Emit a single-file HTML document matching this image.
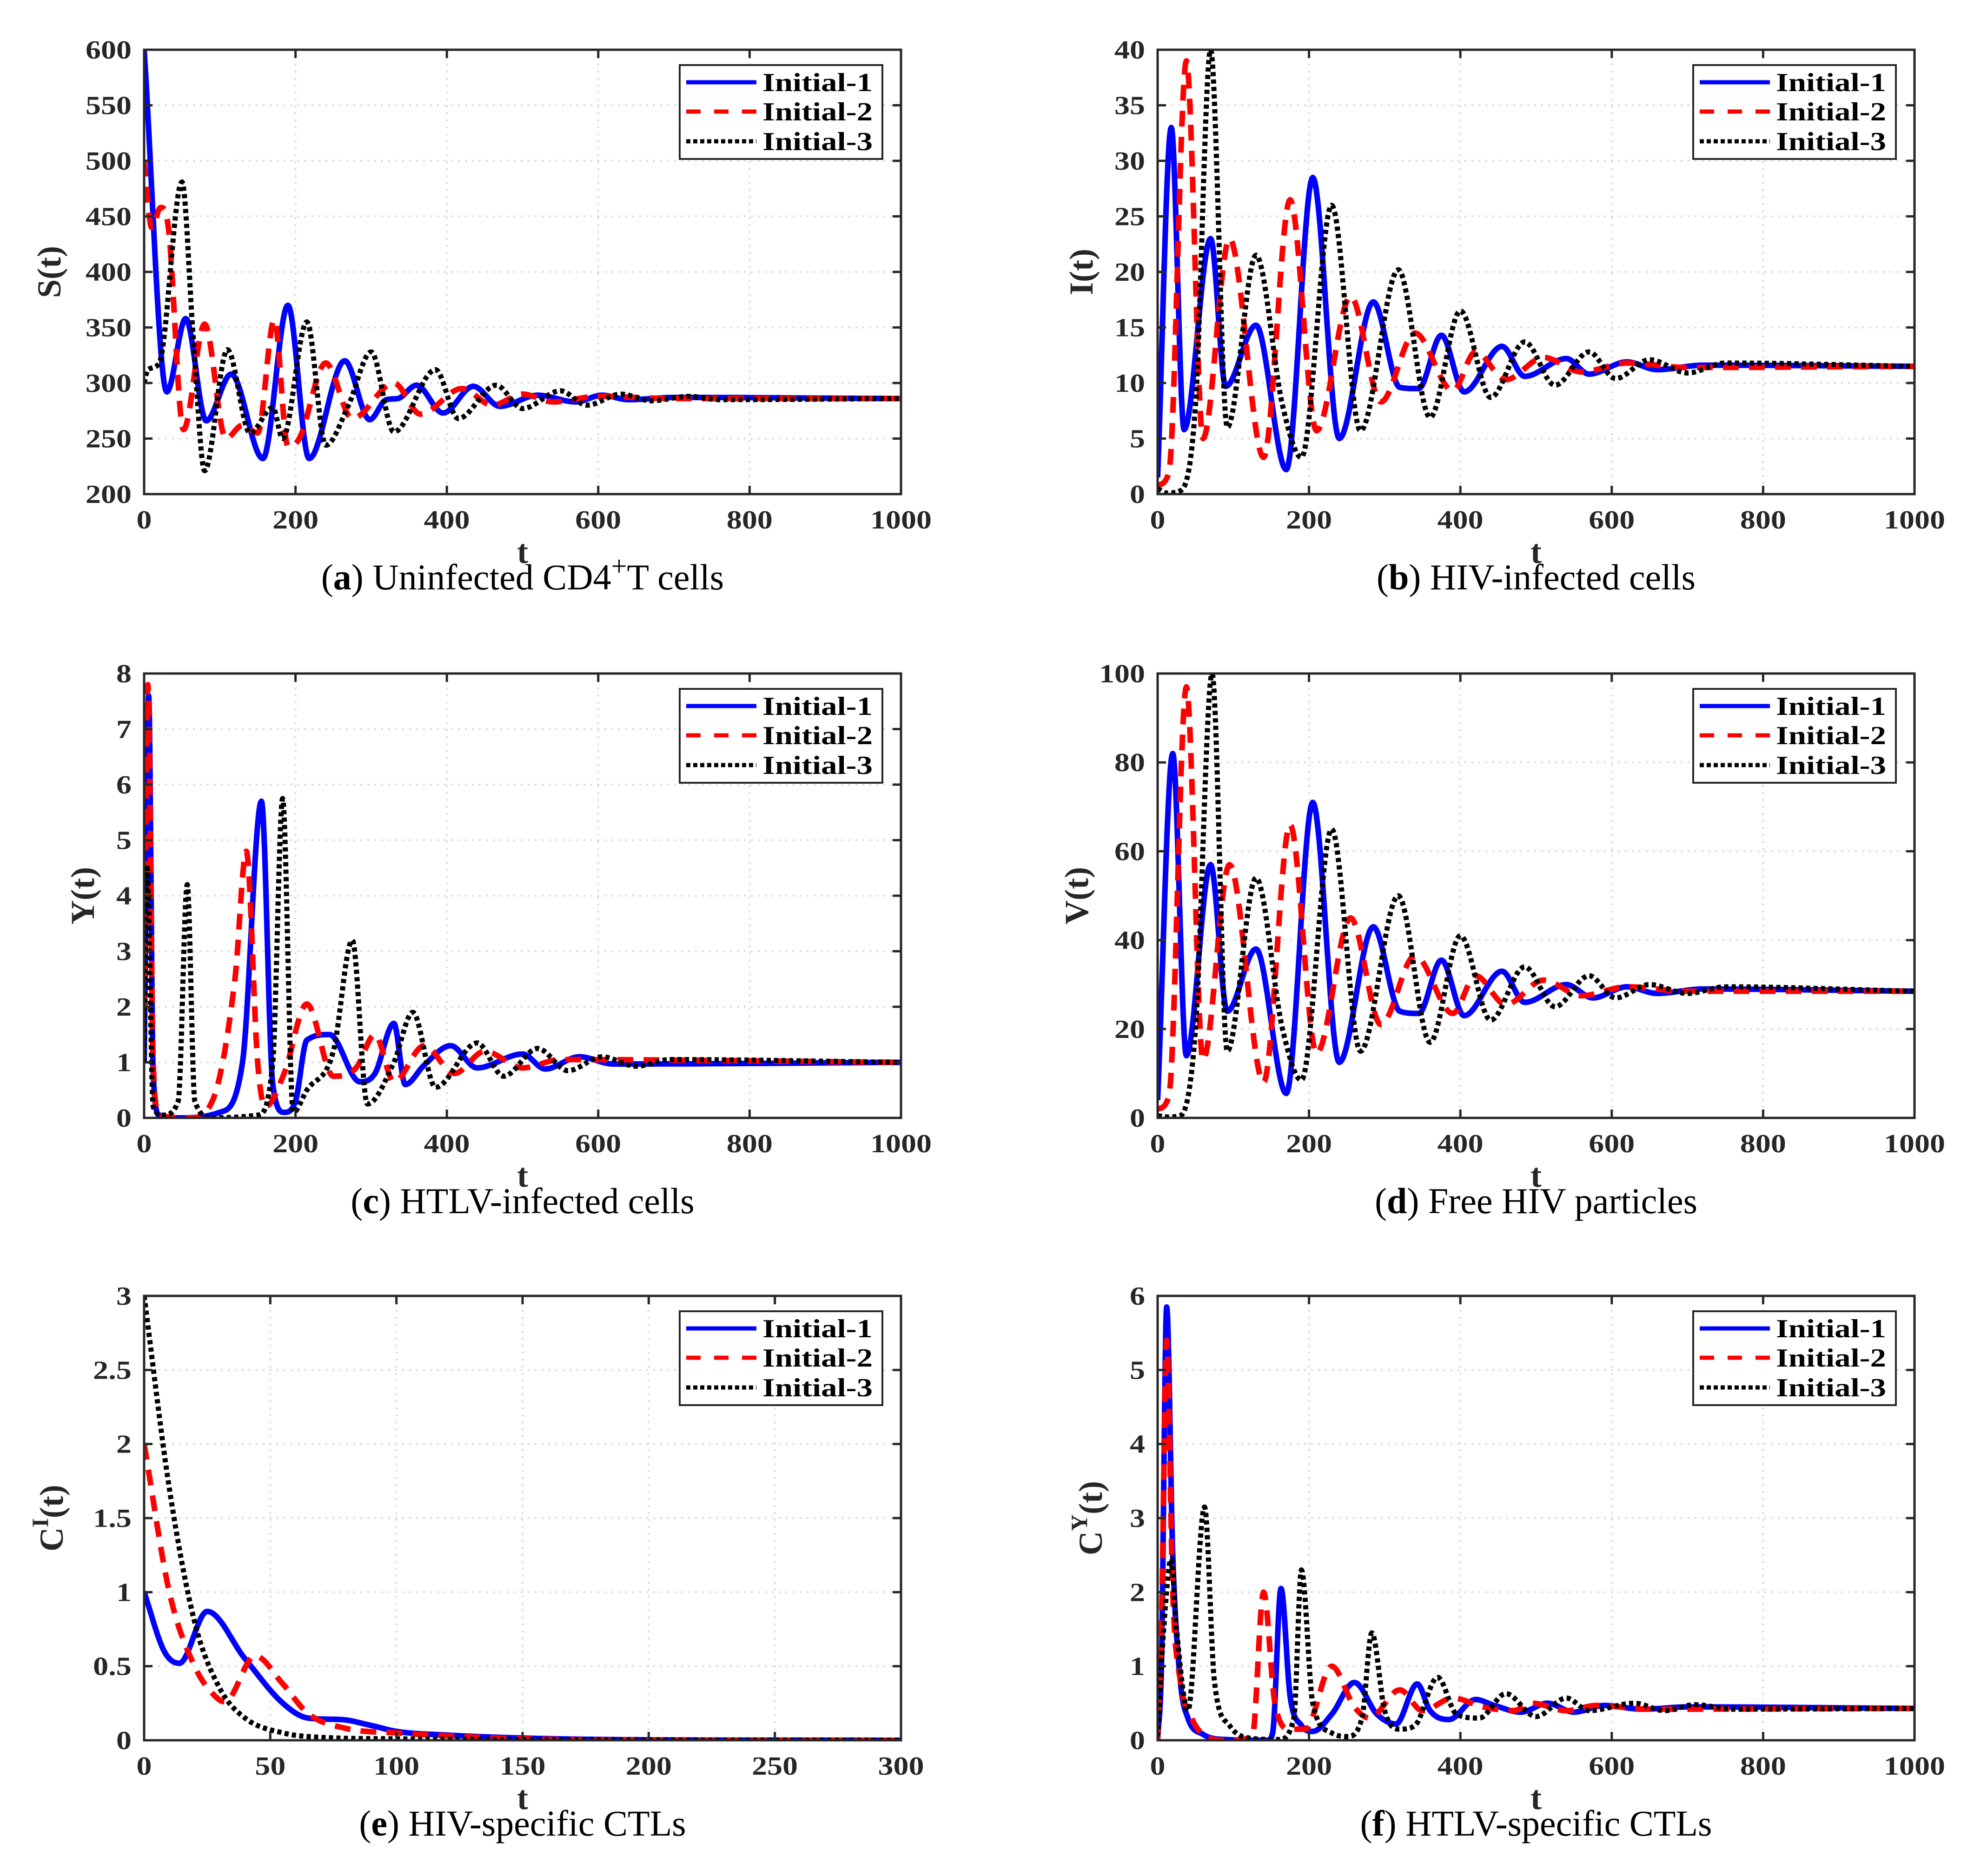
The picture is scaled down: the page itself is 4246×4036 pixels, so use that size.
<!DOCTYPE html>
<html><head><meta charset="utf-8">
<style>
html,body{margin:0;padding:0;background:#fff;}
svg{display:block;}
text{font-family:"Liberation Serif",serif;fill:#262626;}
.tick{font-weight:bold;font-size:56px;}
.cap{font-size:78px;fill:#000;}
.leg{font-weight:bold;font-size:56px;fill:#000;}
</style></head>
<body>
<svg id="fig" width="4246" height="4036" viewBox="0 0 4246 4036" xmlns="http://www.w3.org/2000/svg"></svg>
<script>
// ---- data (t, value) keypoints ----
const aT1=[0,30,55,82,115,157,190,218,265,298,320,335,360,395,435,470,520,570,605,640,700,1000];
const aV1=[600,292,358,266,308,232,370,232,320,267,285,286,298,273,297,279,289,283,289,285,287,286];
const aT2=[0,10,22,32,52,80,108,130,150,172,190,205,240,275,330,365,420,460,500,540,600,700,1000];
const aV2=[500,440,458,440,258,353,250,262,255,357,243,250,318,268,300,272,295,280,290,283,288,286,286];
const aT3=[0,5,20,50,65,80,110,140,170,183,215,240,270,300,330,385,415,465,500,550,585,630,670,720,760,1000];
const aV3=[300,312,318,481,340,221,330,255,278,250,355,244,280,328,256,312,268,298,277,293,280,290,284,288,285,286];

const bT1=[0,18,35,70,90,130,170,205,240,285,320,345,375,405,455,485,540,570,620,660,720,1000];
const bV1=[1.5,33,5.8,23,9.7,15.2,2.2,28.5,5,17.3,9.6,9.5,14.3,9.2,13.3,10.6,12.2,10.8,11.9,11.2,11.6,11.5];
const bT2=[0,15,38,60,95,140,175,210,255,295,340,390,420,460,510,560,620,700,1000];
const bV2=[0.8,2,39,5,23,3.3,26.5,5.7,17.8,8.3,14.5,9.3,12.8,10.3,12.3,11,11.8,11.4,11.5];
const bT3=[0,12,30,50,70,92,130,165,190,230,268,318,360,400,440,485,525,570,605,650,700,750,1000];
const bV3=[0.5,0.1,0.3,8,40,6,21.5,8,3.3,26,5.7,20.2,6.9,16.5,8.7,13.7,9.8,12.8,10.4,12.1,10.9,11.8,11.5];

const cT1=[0,6,12,20,50,100,130,155,170,185,200,215,245,285,305,330,345,370,405,440,500,530,575,620,1000];
const cV1=[1,7.6,0.8,0.05,0,0.1,1,5.7,0.6,0.1,0.3,1.4,1.5,0.65,0.8,1.7,0.6,0.95,1.3,0.9,1.15,0.88,1.1,0.97,1];
const cT2=[0,5,12,20,60,90,120,135,150,160,185,215,250,280,305,330,370,410,450,500,550,1000];
const cV2=[2,7.8,1,0.05,0,0.3,2.5,4.8,1,0.2,0.8,2.05,0.75,0.9,1.5,0.65,1.3,0.8,1.2,0.9,1.05,1];
const cT3=[0,4,12,25,45,57,67,90,150,170,183,197,215,250,275,295,330,355,385,440,475,520,560,605,650,695,1000];
const cV3=[1,4.5,0.2,0.05,0.3,4.2,0.3,0,0.05,1,5.75,0.1,0.5,1.2,3.2,0.25,1,1.9,0.55,1.35,0.75,1.25,0.85,1.1,0.93,1.05,1];

const dT1=[0,20,38,70,92,130,170,205,240,285,320,345,375,405,455,485,540,575,620,660,720,1000];
const dV1=[4,82,14,57,24,38,5.5,71,12.5,43,24,23.5,35.5,23,33,26,30,27,29.5,28,29,28.5];
const dT2=[0,15,38,60,95,140,175,210,255,295,340,390,420,460,510,560,620,700,1000];
const dV2=[2,5,97,13,57,8,66,14.5,45,21,36.5,23.5,32,25.5,31,27.5,29.5,28.5,28.5];
const dT3=[0,12,30,50,72,92,130,165,190,230,268,318,360,400,440,485,525,570,605,650,700,750,1000];
const dV3=[0.5,0.2,0.5,20,100,15,54,20,8.5,65,15,50,17,41,22,34,25,32,27,30,28,29.5,28.5];

const eT1=[0,8,14,25,40,55,65,78,90,100,120,150,200,300];
const eV1=[1,0.6,0.52,0.87,0.55,0.25,0.15,0.14,0.1,0.06,0.035,0.015,0.003,0];
const eT2=[0,10,20,28,32,44,55,65,80,100,120,150,200,300];
const eV2=[2,1.0,0.5,0.3,0.26,0.57,0.38,0.18,0.08,0.05,0.03,0.01,0.002,0];
const eT3=[0,10,20,30,40,55,70,100,150,300];
const eV3=[3,1.7,0.8,0.35,0.15,0.05,0.02,0.01,0.004,0];

const fT1=[0,5,12,20,30,40,60,90,145,152,163,175,190,205,230,260,290,315,343,360,385,420,445,480,515,550,590,640,700,1000];
const fV1=[0,1,5.85,2.5,0.8,0.3,0.08,0.01,0,0.1,2.05,0.6,0.2,0.12,0.35,0.78,0.35,0.22,0.76,0.4,0.28,0.55,0.47,0.38,0.5,0.38,0.47,0.42,0.45,0.43];
const fT2=[0,5,12,20,30,45,60,90,125,140,155,175,195,230,260,280,320,350,390,430,470,495,540,580,650,1000];
const fV2=[0,1.5,5.4,2,0.8,0.3,0.08,0,0.05,2,0.5,0.15,0.15,1,0.45,0.3,0.68,0.4,0.57,0.45,0.4,0.5,0.4,0.47,0.42,0.43];
const fT3=[0,8,18,25,40,62,75,95,120,160,180,190,205,230,250,270,283,300,320,340,370,395,425,460,500,540,570,630,670,710,760,1000];
const fV3=[0.05,1.5,2.45,1.5,0.4,3.15,0.8,0.2,0.03,0.01,0.3,2.3,0.5,0.1,0.05,0.3,1.45,0.4,0.15,0.2,0.85,0.35,0.3,0.63,0.32,0.57,0.4,0.5,0.4,0.48,0.42,0.43];

const xTicks1000=[0,200,400,600,800,1000];
const xTicks300=[0,50,100,150,200,250,300];
const aTicks=[200,250,300,350,400,450,500,550,600];
const bTicks=[0,5,10,15,20,25,30,35,40];
const cTicks=[0,1,2,3,4,5,6,7,8];
const dTicks=[0,20,40,60,80,100];
const eTicks=[0,0.5,1,1.5,2,2.5,3];
const fTicks=[0,1,2,3,4,5,6];
const legendLabels=['Initial-1','Initial-2','Initial-3'];

const NS='http://www.w3.org/2000/svg';
const svg=document.getElementById('fig');
function mk(tag,attrs,parent){const e=document.createElementNS(NS,tag);for(const k in attrs)e.setAttribute(k,attrs[k]);(parent||svg).appendChild(e);return e;}
function tlen(s){s=String(s);let w=0;for(const c of s)w+=(c==='.')?17:33;return w;}

function mono(xs,ys){
  const n=xs.length,d=[],m=[];
  for(let i=0;i<n-1;i++)d.push((ys[i+1]-ys[i])/(xs[i+1]-xs[i]));
  m[0]=d[0];m[n-1]=d[n-2];
  for(let i=1;i<n-1;i++){m[i]=(d[i-1]*d[i]<=0)?0:(d[i-1]+d[i])/2;}
  for(let i=0;i<n-1;i++){if(d[i]===0){m[i]=0;m[i+1]=0;continue;}
    const a=m[i]/d[i],b=m[i+1]/d[i],s=a*a+b*b;if(s>9){const t=3/Math.sqrt(s);m[i]=t*a*d[i];m[i+1]=t*b*d[i];}}
  return {d,m};
}

function panel(cfg){
  const g=mk('g',{});
  
  
  const L=cfg.x,T=cfg.y,W=1628,H=956;
  const sx=v=>L+(v-cfg.xmin)/(cfg.xmax-cfg.xmin)*W;
  const sy=v=>T+H-(v-cfg.ymin)/(cfg.ymax-cfg.ymin)*H;
  const clip='clip-'+cfg.name;
  const cp=mk('clipPath',{id:clip},g);mk('rect',{x:L,y:T-6,width:W,height:H+6},cp);
  cfg.xt.forEach(v=>{if(v>cfg.xmin&&v<cfg.xmax){const l=mk('line',{x1:sx(v),x2:sx(v),y1:T,y2:T+H,stroke:'#dcdcdc','stroke-width':4,'stroke-dasharray':'4 11'},g);}});
  cfg.yt.forEach(v=>{if(v>cfg.ymin&&v<cfg.ymax){const l=mk('line',{x1:L,x2:L+W,y1:sy(v),y2:sy(v),stroke:'#dcdcdc','stroke-width':4,'stroke-dasharray':'4 11'},g);}});
  const styles=[{c:'#0000ff',w:12,da:'',lda:''},{c:'#ff0000',w:12,da:'34 22',lda:'31 29'},{c:'#000',w:11,da:'9 7',lda:'9 6'}];
  cfg.series.forEach((s,k)=>{
    const xs=s[0],ys=s[1],{m}=mono(xs,ys);let p='M'+sx(xs[0]).toFixed(1)+' '+sy(ys[0]).toFixed(1);
    for(let i=0;i<xs.length-1;i++){const h=xs[i+1]-xs[i];
      for(let j=1;j<=24;j++){const t=j/24,t2=t*t,t3=t2*t;
        const y=(2*t3-3*t2+1)*ys[i]+(t3-2*t2+t)*h*m[i]+(-2*t3+3*t2)*ys[i+1]+(t3-t2)*h*m[i+1];
        p+='L'+sx(xs[i]+t*h).toFixed(1)+' '+sy(y).toFixed(1);}}
    const st=styles[k];const a={d:p,fill:'none',stroke:st.c,'stroke-width':st.w,'stroke-linejoin':'round','clip-path':'url(#'+clip+')'};
    if(st.da)a['stroke-dasharray']=st.da;
    const e=mk('path',a,g);
    
    
  });
  const bx=mk('rect',{x:L,y:T,width:W,height:H,fill:'none',stroke:'#262626','stroke-width':5},g);
  
  cfg.xt.forEach(v=>{const x=sx(v);
    mk('line',{x1:x,x2:x,y1:T+H,y2:T+H-18,stroke:'#262626','stroke-width':5},g);
    mk('line',{x1:x,x2:x,y1:T,y2:T+18,stroke:'#262626','stroke-width':5},g);
    const t=mk('text',{x:x,y:T+H+74,'text-anchor':'middle',class:'tick',textLength:tlen(v),lengthAdjust:'spacingAndGlyphs'},g);t.textContent=v;
    });
  cfg.yt.forEach(v=>{const y=sy(v);
    mk('line',{x1:L,x2:L+18,y1:y,y2:y,stroke:'#262626','stroke-width':5},g);
    mk('line',{x1:L+W,x2:L+W-18,y1:y,y2:y,stroke:'#262626','stroke-width':5},g);
    const t=mk('text',{x:L-27,y:y+19,'text-anchor':'end',class:'tick',textLength:tlen(v),lengthAdjust:'spacingAndGlyphs'},g);t.textContent=v;
    });
  const xl=mk('text',{x:L+W/2,y:T+H+148,'text-anchor':'middle',class:'tick',style:'font-size:72px'},g);xl.textContent='t';
  
  const yl=mk('text',{transform:'translate('+(L-cfg.ylOff)+','+(T+H/2)+') rotate(-90)','text-anchor':'middle',class:'tick',style:'font-size:72px'},g);
  yl.innerHTML=cfg.ylabel;
  
  const cap=mk('text',{x:L+W/2,y:T+H+205,'text-anchor':'middle',class:'cap'},g);
  cap.innerHTML=cfg.caption;
  
  const lg=mk('g',{},g);
  const lx=L+W-40-436,ly=T+33;
  mk('rect',{x:lx,y:ly,width:436,height:202,fill:'#fff',stroke:'#262626','stroke-width':4},lg);
  const rowOff=[37,100,164];
  legendLabels.forEach((lab,k)=>{const yy=ly+rowOff[k];const st=styles[k];
    const a={x1:lx+14,x2:lx+165,y1:yy,y2:yy,stroke:st.c,'stroke-width':9};if(st.lda)a['stroke-dasharray']=st.lda;
    const ln=mk('line',a,lg);
    const t=mk('text',{x:lx+178,y:yy+19,class:'leg',textLength:237,lengthAdjust:'spacingAndGlyphs'},lg);t.textContent=lab;
    });
}
const X1=310,X2=2490,Y1=107,Y2=1449,Y3=2788;
panel({name:'panel-a-uninfected',x:X1,y:Y1,xmin:0,xmax:1000,ymin:200,ymax:600,xt:xTicks1000,yt:aTicks,ylOff:180,ylabel:'S(t)',caption:'(<tspan font-weight="bold">a</tspan>) Uninfected CD4<tspan style="font-size:60px" dy="-30">+</tspan><tspan dy="30">T cells</tspan>',series:[[aT1,aV1],[aT2,aV2],[aT3,aV3]]});
panel({name:'panel-b-hiv-infected',x:X2,y:Y1,xmin:0,xmax:1000,ymin:0,ymax:40,xt:xTicks1000,yt:bTicks,ylOff:140,ylabel:'I(t)',caption:'(<tspan font-weight="bold">b</tspan>) HIV-infected cells',series:[[bT1,bV1],[bT2,bV2],[bT3,bV3]]});
panel({name:'panel-c-htlv-infected',x:X1,y:Y2,xmin:0,xmax:1000,ymin:0,ymax:8,xt:xTicks1000,yt:cTicks,ylOff:108,ylabel:'Y(t)',caption:'(<tspan font-weight="bold">c</tspan>) HTLV-infected cells',series:[[cT1,cV1],[cT2,cV2],[cT3,cV3]]});
panel({name:'panel-d-free-hiv',x:X2,y:Y2,xmin:0,xmax:1000,ymin:0,ymax:100,xt:xTicks1000,yt:dTicks,ylOff:150,ylabel:'V(t)',caption:'(<tspan font-weight="bold">d</tspan>) Free HIV particles',series:[[dT1,dV1],[dT2,dV2],[dT3,dV3]]});
panel({name:'panel-e-hiv-ctl',x:X1,y:Y3,xmin:0,xmax:300,ymin:0,ymax:3,xt:xTicks300,yt:eTicks,ylOff:175,ylabel:'C<tspan style="font-size:50px" dy="-32">I</tspan><tspan dy="32">(t)</tspan>',caption:'(<tspan font-weight="bold">e</tspan>) HIV-specific CTLs',series:[[eT1,eV1],[eT2,eV2],[eT3,eV3]]});
panel({name:'panel-f-htlv-ctl',x:X2,y:Y3,xmin:0,xmax:1000,ymin:0,ymax:6,xt:xTicks1000,yt:fTicks,ylOff:120,ylabel:'C<tspan style="font-size:50px" dy="-32">Y</tspan><tspan dy="32">(t)</tspan>',caption:'(<tspan font-weight="bold">f</tspan>) HTLV-specific CTLs',series:[[fT1,fV1],[fT2,fV2],[fT3,fV3]]});
</script>
</body></html>
